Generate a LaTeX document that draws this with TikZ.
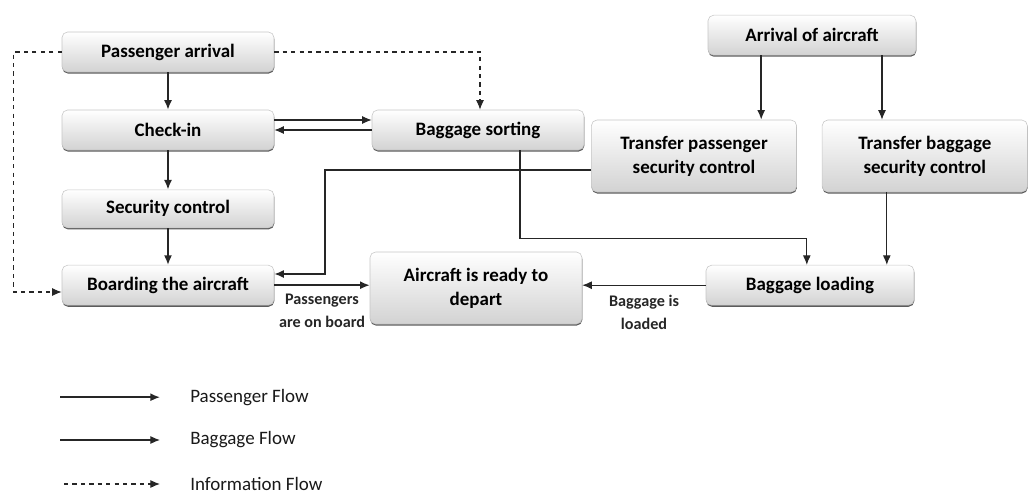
\documentclass[tikz,border=0pt]{standalone}
\usepackage{fontspec}
\setmainfont{Carlito}
\usetikzlibrary{arrows.meta,positioning,calc,shadows}

\begin{document}
\begin{tikzpicture}[
        box/.style={rectangle,rounded corners=4pt,draw=gray!45,top color=white,bottom color=gray!35,
              drop shadow={shadow xshift=0.2pt,shadow yshift=-1.1pt,fill=black!80,opacity=0.8},
              minimum width=5.3cm,minimum height=1cm,align=center,font=\fontsize{13.5}{17}\selectfont\bfseries},
        pflow/.style={-{Latex[length=2.4mm,width=2mm]},line width=1.1pt,black!85},
        bflow/.style={-{Latex[length=2.4mm,width=2mm]},line width=0.75pt,black!85},
        iflow/.style={-{Latex[length=2.4mm,width=2mm]},line width=0.75pt,black!85,dashed},
        lbl/.style={font=\fontsize{11.5}{16}\selectfont\bfseries,align=center,text=black!85,inner sep=1pt},
        leg/.style={font=\fontsize{13.5}{16}\selectfont,anchor=west,text=black!90,inner sep=0pt}]

        \useasboundingbox (0,0) rectangle (25.8,-12.35);

        % passenger side
        \node[box] (pa) at (4.2,-1.3)   {Passenger arrival};
        \node[box] (ci) at (4.2,-3.25)  {Check-in};
        \node[box,minimum height=0.95cm] (sc) at (4.2,-5.22) {Security control};
        \node[box] (bd) at (4.2,-7.13)  {Boarding the aircraft};

        \node[box] (bs) at (11.95,-3.25) {Baggage sorting};
        \node[box,minimum height=1.8cm] (ar) at (11.9,-7.2) {Aircraft is ready to\\depart};

        % transfer side
        \node[box,minimum width=5.2cm] (aa) at (20.3,-0.88) {Arrival of aircraft};
        \node[box,minimum width=5.13cm,minimum height=1.8cm] (tp) at (17.35,-3.9) {Transfer passenger\\security control};
        \node[box,minimum width=5.13cm,minimum height=1.8cm] (tb) at (23.12,-3.9) {Transfer baggage\\security control};
        \node[box,minimum width=5.2cm] (bl) at (20.25,-7.13) {Baggage loading};

        \draw[pflow] (pa.south) -- (ci.north);
        \draw[pflow] (ci.south) -- (sc.north);
        \draw[pflow] (sc.south) -- (bd.north);

        \draw[bflow] ([yshift=0.25cm]ci.east) -- ([yshift=0.25cm]bs.west);
        \draw[bflow] (bs.west) -- (ci.east);

        \draw[iflow] (pa.east) -| ([xshift=0.05cm]bs.north);
        \draw[iflow] (pa.west) -- ++(-1.2,0) |- ([yshift=-0.17cm]bd.west);

        \coordinate (tpbend) at (8.12,-4.25);
        \draw[pflow] ([yshift=-0.35cm]tp.west) -- (tpbend) |- ([yshift=0.28cm]bd.east);

        \draw[bflow] ([xshift=1.05cm]bs.south) -- ++(0,-2.2) -| ([xshift=-0.08cm]bl.north);
        \draw[bflow] ([xshift=-0.95cm]tb.south) -- ([xshift=-0.95cm]tb.south |- bl.north);

        \draw[pflow] ([xshift=-1.27cm]aa.south) -- ([xshift=-1.27cm]aa.south |- tp.north);
        \draw[bflow] ([xshift=1.75cm]aa.south) -- ([xshift=1.75cm]aa.south |- tb.north);

        \draw[pflow] (bd.east) -- (bd.east -| ar.west)
              node[lbl,midway,below=5pt] (lpb) {Passengers\\are on board};
        \draw[bflow] (bl.west) -- (bl.west -| ar.east)
              node[lbl,midway,below=6pt] (lbl1) {Baggage is\\loaded};

        % legend
        \node[leg] (lt1) at (4.75,-9.93)  {Passenger Flow};
        \node[leg] (lt2) at (4.75,-11.0)  {Baggage Flow};
        \node[leg] (lt3) at (4.75,-12.1)  {Information Flow};
        \coordinate (lp1) at (1.5,-9.93);
        \coordinate (lp2) at (1.5,-11.0);
        \coordinate (lp3) at (1.6,-12.1);
        \draw[pflow] (lp1) -- ([xshift=-0.75cm]lt1.west);
        \draw[bflow] (lp2) -- ([xshift=-0.75cm]lt2.west);
        \draw[iflow] (lp3) -- ([xshift=-0.75cm]lt3.west);

    \end{tikzpicture}
\end{document}
